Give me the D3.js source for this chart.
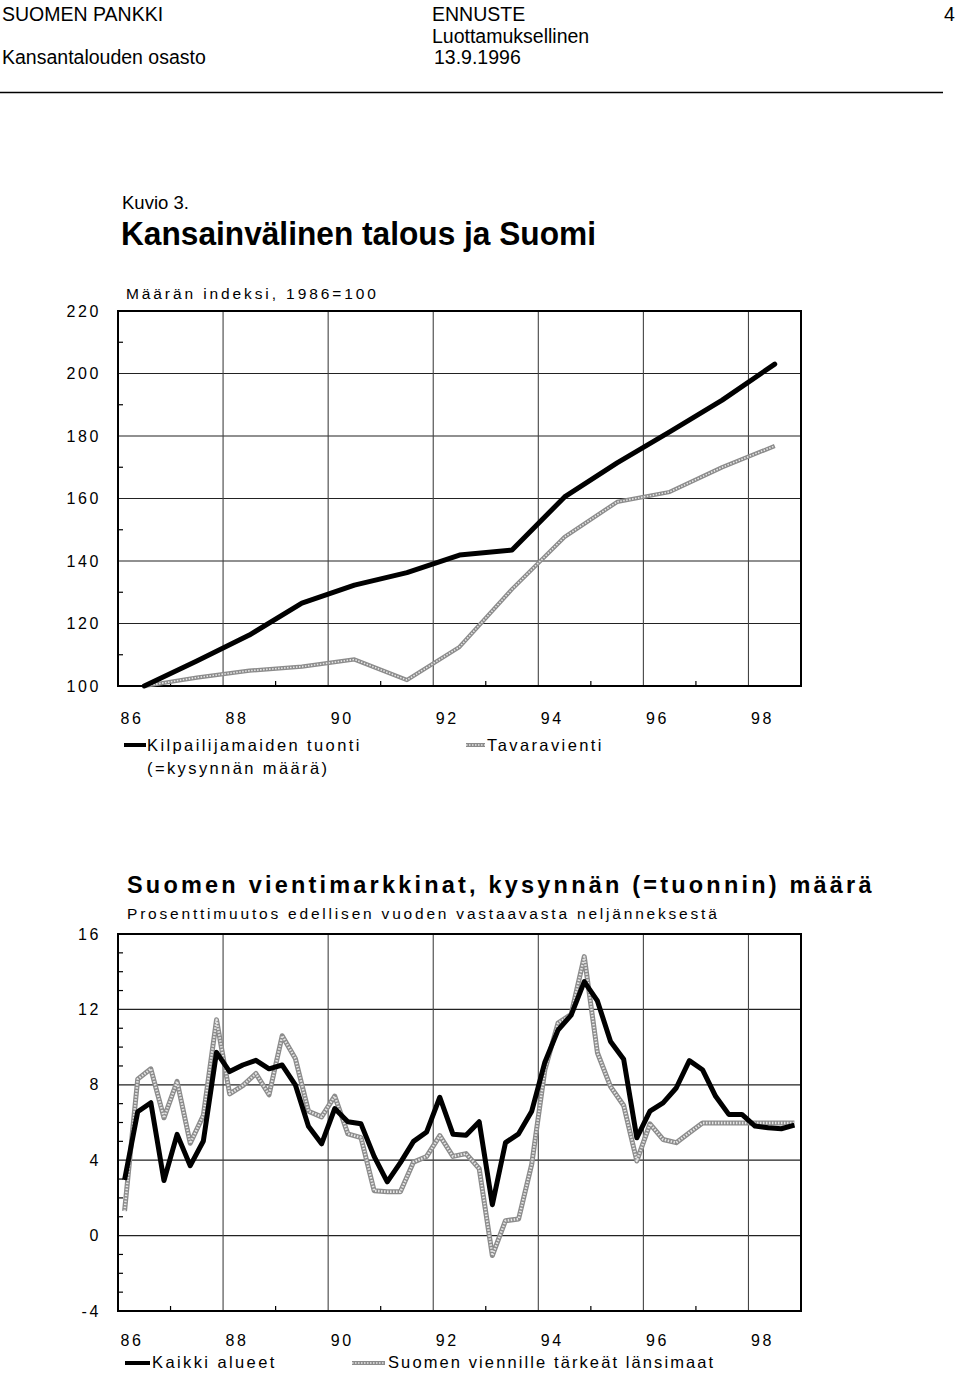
<!DOCTYPE html>
<html><head><meta charset="utf-8">
<script src="https://cdn.jsdelivr.net/npm/d3@7"></script>
<style>
body{margin:0;background:#fff}
svg text{font-family:"Liberation Sans",Arial,Helvetica,sans-serif;fill:#000}
</style>
</head><body>
<svg id="c" width="960" height="1373"></svg>
<script>
// ---------- DATA ----------
const yearsTop = ["1986","1987","1988","1989","1990","1991","1992","1993","1994","1995","1996","1997","1998"];
const competitorImports = [100,108,116.3,126.5,132.3,136.3,141.9,143.5,160.5,171.4,181.3,191.5,203];
const goodsExports      = [100,102.7,104.9,106.2,108.5,101.9,112.5,131,147.7,158.9,162.1,170,176.8];

const quarters = ["1986Q1","1986Q2","1986Q3","1986Q4","1987Q1","1987Q2","1987Q3","1987Q4",
"1988Q1","1988Q2","1988Q3","1988Q4","1989Q1","1989Q2","1989Q3","1989Q4",
"1990Q1","1990Q2","1990Q3","1990Q4","1991Q1","1991Q2","1991Q3","1991Q4",
"1992Q1","1992Q2","1992Q3","1992Q4","1993Q1","1993Q2","1993Q3","1993Q4",
"1994Q1","1994Q2","1994Q3","1994Q4","1995Q1","1995Q2","1995Q3","1995Q4",
"1996Q1","1996Q2","1996Q3","1996Q4","1997Q1","1997Q2","1997Q3","1997Q4",
"1998Q1","1998Q2","1998Q3","1998Q4"];
const allAreas = [2.95,6.57,7.05,2.92,5.37,3.71,5.02,9.72,8.7,9.05,9.3,8.85,
9.05,8.0,5.8,4.87,6.74,6.04,5.93,4.2,2.85,3.87,5.0,5.5,
7.34,5.38,5.32,6.04,1.64,4.93,5.4,6.6,9.2,10.9,11.7,13.47,
12.45,10.3,9.35,5.19,6.6,7.04,7.83,9.28,8.8,7.39,6.43,6.43,
5.81,5.72,5.67,5.86];
const westernMarkets = [1.3,8.3,8.85,6.25,8.18,4.9,6.38,11.45,7.52,7.96,8.6,7.47,
10.6,9.4,6.6,6.3,7.4,5.4,5.2,2.38,2.33,2.33,3.9,4.2,
5.3,4.2,4.35,3.55,-1.06,0.79,0.88,3.79,8.8,11.27,11.74,14.8,
9.7,7.9,6.9,3.96,5.93,5.1,4.93,5.46,5.97,5.97,5.97,5.97,
5.97,5.97,5.97,5.97];

const xTickLabels = ["86","88","90","92","94","96","98"];
const yTicksTop = [100,120,140,160,180,200,220];
const yTicksBottom = [-4,0,4,8,12,16];

// ---------- SETUP ----------
const svg = d3.select("#c");
const LS = "2.6px";

function txt(x,y,s,size,opts={}){
  const t = svg.append("text").attr("x",x).attr("y",y).text(s).style("font-size",size+"px");
  if(opts.ls) t.style("letter-spacing",opts.ls);
  if(opts.bold) t.style("font-weight","bold");
  if(opts.anchor) t.attr("text-anchor",opts.anchor);
  return t;
}
// Header
txt(2,21,"SUOMEN PANKKI",19.5);
txt(2,64,"Kansantalouden osasto",19.5);
txt(432,21,"ENNUSTE",19.5);
txt(432,43,"Luottamuksellinen",19.5);
txt(434,64,"13.9.1996",19.5);
txt(944,21,"4",19.5);
svg.append("line").attr("x1",0).attr("x2",943).attr("y1",92.5).attr("y2",92.5).attr("stroke","#000").attr("stroke-width",1.5);

txt(122,209,"Kuvio 3.",18.5);
txt(121,245,"Kansainvälinen talous ja Suomi",34,{bold:true})
  .attr("textLength",475).attr("lengthAdjust","spacingAndGlyphs");

// shared x scale
const x = d3.scaleLinear().domain([1986,1999]).range([118,801]);
const gridYears = d3.range(1988,1999,2);
const oddYears = d3.range(1987,1999,2);

function drawGrey(g, data, w){
  g.append("path").attr("d",data).attr("fill","none").attr("stroke","#8c8c8c").attr("stroke-width",w).attr("stroke-linejoin","round");
  g.append("path").attr("d",data).attr("fill","none").attr("stroke","#e6e6e6").attr("stroke-width",Math.max(w-2.6,1)).attr("stroke-dasharray","1.5,1.5").attr("stroke-linejoin","round");
}

function panel(y, yTicks, minorTicks){
  const g = svg.append("g");
  const [y0,y1] = y.range();
  g.selectAll(".hg").data(yTicks).join("line")
    .attr("x1",x(1986)).attr("x2",x(1999)).attr("y1",d=>y(d)).attr("y2",d=>y(d))
    .attr("stroke","#222").attr("stroke-width",1.2);
  g.selectAll(".vg").data(gridYears).join("line")
    .attr("x1",d=>x(d)).attr("x2",d=>x(d)).attr("y1",y0).attr("y2",y1)
    .attr("stroke","#444").attr("stroke-width",1.1);
  g.selectAll(".mt").data(minorTicks).join("line")
    .attr("x1",x(1986)).attr("x2",x(1986)+5).attr("y1",d=>y(d)).attr("y2",d=>y(d))
    .attr("stroke","#000").attr("stroke-width",1.2);
  g.selectAll(".bt").data(oddYears).join("line")
    .attr("x1",d=>x(d)).attr("x2",d=>x(d)).attr("y1",y0).attr("y2",y0-5)
    .attr("stroke","#000").attr("stroke-width",1.2);
  g.append("rect").attr("x",x(1986)).attr("y",y1).attr("width",x(1999)-x(1986)).attr("height",y0-y1)
    .attr("fill","none").attr("stroke","#000").attr("stroke-width",2);
  const ya = d3.axisLeft(y).tickValues(yTicks).tickSize(0).tickPadding(17).tickFormat(d=>String(d));
  const yg = svg.append("g").attr("transform",`translate(${x(1986)},0)`).call(ya);
  yg.select(".domain").remove();
  yg.selectAll("text").style("font-size","16px").style("letter-spacing",LS).style("font-family",'"Liberation Sans",Arial,sans-serif').attr("fill","#000");
  const xa = d3.axisBottom(x).tickValues(d3.range(1986,1999,2)).tickSize(0).tickPadding(0)
    .tickFormat((d,i)=>xTickLabels[i]);
  const xg = svg.append("g").attr("transform",`translate(0,${y0})`).call(xa);
  xg.select(".domain").remove();
  xg.selectAll("text").attr("text-anchor","start").attr("dx",2).attr("dy",0)
    .style("font-size","16px").style("letter-spacing",LS).style("font-family",'"Liberation Sans",Arial,sans-serif').attr("fill","#000");
  return {g, yg, xg};
}

// ---------- PANEL 1 ----------
txt(126,299,"Määrän indeksi, 1986=100",15.5,{ls:"2.9px"});
const y1 = d3.scaleLinear().domain([100,220]).range([686,311]);
const p1 = panel(y1, yTicksTop, d3.range(110,220,20));
p1.xg.selectAll("text").attr("y",38);
const line1 = d3.line().x((d,i)=>x(+yearsTop[i]+0.5)).y(d=>y1(d));
const lg1 = svg.append("g");
drawGrey(lg1, line1(goodsExports), 4.2);
lg1.append("path").attr("d",line1(competitorImports)).attr("fill","none").attr("stroke","#000").attr("stroke-width",5).attr("stroke-linejoin","round").attr("stroke-linecap","round");

// legend 1
svg.append("line").attr("x1",124).attr("x2",146).attr("y1",745).attr("y2",745).attr("stroke","#000").attr("stroke-width",4);
txt(147,751,"Kilpailijamaiden tuonti",16.5,{ls:"2.4px"});
txt(147,774,"(=kysynnän määrä)",16.5,{ls:"2.4px"});
const lgL = svg.append("g");
drawGrey(lgL, "M466,745L485,745", 4);
txt(487,751,"Tavaravienti",16.5,{ls:"2.4px"});

// ---------- PANEL 2 ----------
txt(127,893,"Suomen vientimarkkinat, kysynnän (=tuonnin) määrä",23.5,{ls:"3.2px",bold:true});
txt(127,919,"Prosenttimuutos edellisen vuoden vastaavasta neljänneksestä",15.5,{ls:"2.8px"});
const y2 = d3.scaleLinear().domain([-4,16]).range([1311,934]);
const p2 = panel(y2, yTicksBottom, d3.range(-3,16,1).filter(d=>d%4!==0));
p2.xg.selectAll("text").attr("y",35);
const qx = q => x(+q.slice(0,4) + (+q.slice(5)-0.5)/4);
const line2 = d3.line().x((d,i)=>qx(quarters[i])).y(d=>y2(d));
const lg2 = svg.append("g");
drawGrey(lg2, line2(westernMarkets), 5);
lg2.append("path").attr("d",line2(allAreas)).attr("fill","none").attr("stroke","#000").attr("stroke-width",5).attr("stroke-linejoin","round");

// legend 2
svg.append("line").attr("x1",125).attr("x2",150).attr("y1",1363).attr("y2",1363).attr("stroke","#000").attr("stroke-width",4);
txt(152,1368,"Kaikki alueet",16.5,{ls:"2.4px"});
const lgL2 = svg.append("g");
drawGrey(lgL2, "M352,1363L385,1363", 4);
txt(388,1368,"Suomen viennille tärkeät länsimaat",16.5,{ls:"2.1px"});
</script>
</body></html>
